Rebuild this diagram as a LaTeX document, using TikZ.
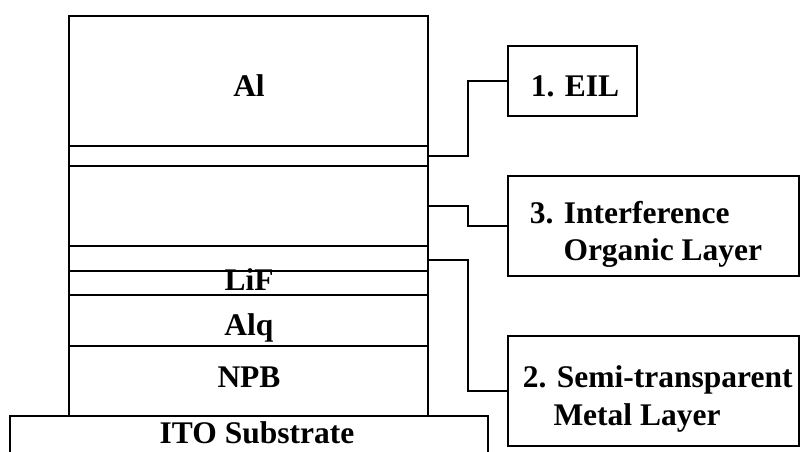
\documentclass[tikz,border=0pt]{standalone}
\usepackage{fontspec}
\setmainfont{Liberation Serif}
\begin{document}
\begin{tikzpicture}[x=1pt,y=-1pt, line width=1.6pt,
  lbl/.style={anchor=base, inner sep=0pt, font=\fontsize{31.5}{37}\selectfont\bfseries},
  lblw/.style={lbl, anchor=base west},
  tagbox/.style={draw, rectangle, inner sep=0pt, outer sep=0pt},
  link/.style={draw, line width=1.6pt}]
\useasboundingbox (0,0) rectangle (801,451);
% layer stack
\draw (69,16) rectangle (428,416);
\foreach \yy in {146,166,246,271,295,346} \draw (69,\yy) -- (428,\yy);
% substrate
\draw (10,453) -- (10,416) -- (488,416) -- (488,453);
% labelled boxes
\node[tagbox, minimum width=129pt, minimum height=70pt] (b1) at (572.5,81) {};
\node[tagbox, minimum width=291pt, minimum height=100pt] (b3) at (653.5,226) {};
\node[tagbox, minimum width=291pt, minimum height=110pt] (b2) at (653.5,391) {};
% connector starts
\coordinate (p1) at (428,156);
\coordinate (p3) at (428,206);
\coordinate (p2) at (428,260);
\path[link] (p1) -- ++(40,0) |- (b1.west);
\path[link] (p3) -- ++(40,0) |- (b3.west);
\path[link] (p2) -- ++(40,0) |- (b2.west);
% texts
\node[lbl] (al) at (249,96) {Al};
\node[lbl] (lif) at (249,290) {LiF};
\node[lbl] (alq) at (249,335) {Alq};
\node[lbl] (npb) at (249,387) {NPB};
\node[lbl] (ito) at (257,443) {ITO Substrate};
\node[lblw] (t1) at (530,96) {1. EIL};
\node[lblw] (t3a) at (529,223) {3. Interference};
\node[lblw] (t3b) at (562.7,260) {Organic Layer};
\node[lblw] (t2a) at (522,387) {2. Semi-transparent};
\node[lblw] (t2b) at (552.7,425) {Metal Layer};
\end{tikzpicture}
\end{document}
